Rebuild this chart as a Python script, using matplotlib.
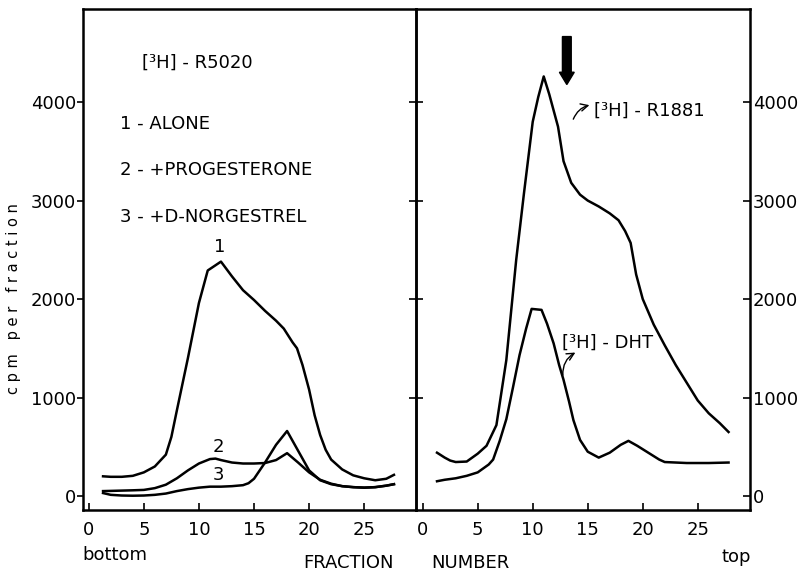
import numpy as np
import matplotlib
matplotlib.use("Agg")
import matplotlib.pyplot as plt

plt.rcParams['font.family'] = ['DejaVu Sans']
plt.rc('font', size=13)
plt.rc('xtick', labelsize=13)
plt.rc('ytick', labelsize=13)

# ---- left panel: [3H]-R5020 ----
alone_x = [1.3, 2, 3, 4, 5, 6, 7, 7.5, 8, 9, 10, 10.8, 12, 13, 14, 15, 16, 17, 17.7,
           18.5, 18.9, 19.4, 20, 20.5, 21, 21.5, 22, 23, 24, 25, 26, 27, 27.7]
alone_y = [200, 195, 195, 205, 240, 300, 420, 600, 870, 1400, 1960, 2290, 2380, 2230,
           2090, 1990, 1880, 1780, 1700, 1560, 1500, 1330, 1080, 820, 620, 470, 370,
           270, 210, 180, 160, 175, 215]

prog_x = [1.3, 2, 3, 4, 5, 6, 7, 8, 9, 10, 11, 11.5, 12, 13, 14, 15, 16, 17, 18, 19,
          20, 21, 22, 23, 24, 25, 26, 27, 27.7]
prog_y = [50, 52, 55, 58, 62, 80, 115, 180, 260, 330, 375, 380, 365, 340, 330, 330,
          335, 365, 435, 340, 240, 165, 125, 100, 90, 85, 90, 105, 120]

norg_x = [1.3, 2, 3, 4, 5, 6, 7, 8, 9, 10, 11, 12, 13, 14, 14.5, 15, 16, 17, 18, 19,
          20, 21, 22, 23, 24, 25, 26, 27, 27.7]
norg_y = [30, 12, 5, 3, 5, 12, 25, 50, 70, 85, 95, 95, 100, 110, 130, 175, 340, 520,
          660, 460, 260, 160, 120, 100, 90, 85, 90, 105, 120]

# ---- right panel: [3H]-R1881 and [3H]-DHT ----
r1881_x = [1.3, 2, 2.5, 3, 4, 5, 5.8, 6.7, 7.6, 8.5, 9.2, 10, 10.5, 11, 11.5, 12.3,
           12.8, 13.5, 14.3, 15, 16, 17, 17.8, 18.4, 18.9, 19.4, 20, 21, 22, 23, 24,
           25, 26, 27, 27.8]
r1881_y = [440, 390, 360, 345, 350, 430, 510, 720, 1380, 2400, 3070, 3800, 4050, 4260,
           4080, 3750, 3400, 3180, 3060, 3000, 2940, 2870, 2800, 2690, 2570, 2250, 2000,
           1740, 1530, 1330, 1150, 970, 840, 740, 650]

dht_x = [1.3, 2, 3, 4, 5, 6, 6.4, 7, 7.6, 8.2, 8.8, 9.4, 9.9, 10.8, 11.3, 11.9, 12.4,
         12.8, 13.3, 13.7, 14.3, 15, 16, 17, 18, 18.7, 19.5, 20.5, 21.5, 22, 24, 26, 27.8]
dht_y = [150, 165, 180, 205, 240, 320, 370, 560, 780, 1100, 1430, 1700, 1900, 1890,
         1750, 1550, 1330, 1180, 960, 770, 570, 450, 390, 440, 520, 560, 510, 440, 370,
         345, 335, 335, 340]

x_ticks = [0, 5, 10, 15, 20, 25]
y_ticks = [0, 1000, 2000, 3000, 4000]

W, H = 799, 572
fig = plt.figure(figsize=(W / 100, H / 100), dpi=100)
ax1 = fig.add_axes([83 / W, 1 - 510 / H, (416 - 83) / W, (510 - 9) / H])
ax2 = fig.add_axes([416 / W, 1 - 510 / H, (750 - 416) / W, (510 - 9) / H])
ax2.patch.set_visible(False)

lw = 1.8
for ax in (ax1, ax2):
    for s in ax.spines.values():
        s.set_linewidth(1.8)
    ax.set_ylim(-142, 4945)
    ax.set_xticks(x_ticks)
    ax.set_yticks(y_ticks)
    ax.tick_params(axis='x', direction='in', length=5, width=1.2, pad=8)

ax1.set_xlim(-0.52, 29.7)
ax2.set_xlim(-0.61, 29.75)

ax1.plot(alone_x, alone_y, color='k', lw=lw)
ax1.plot(prog_x, prog_y, color='k', lw=lw)
ax1.plot(norg_x, norg_y, color='k', lw=lw)
ax2.plot(r1881_x, r1881_y, color='k', lw=lw)
ax2.plot(dht_x, dht_y, color='k', lw=lw)

ax1.tick_params(axis='y', direction='out', length=4, width=1.2, pad=1)
sec = ax1.secondary_yaxis('right')
sec.set_yticks([1000, 2000, 3000, 4000])
sec.tick_params(axis='y', direction='inout', length=10, width=1.2, labelright=False)
sec.spines['right'].set_linewidth(1.8)

ax2.spines['left'].set_visible(False)
ax2.yaxis.tick_right()
ax2.tick_params(axis='y', direction='in', length=5, width=1.2, pad=2)

# left panel texts
ax1.text(4.8, 4400, "[³H] - R5020", ha='left', va='center')
ax1.text(2.8, 3780, "1 - ALONE", ha='left', va='center')
ax1.text(2.8, 3310, "2 - +PROGESTERONE", ha='left', va='center')
ax1.text(2.8, 2835, "3 - +D-NORGESTREL", ha='left', va='center')
ax1.text(11.9, 2530, "1", ha='center', va='center')
ax1.text(11.8, 500, "2", ha='center', va='center')
ax1.text(11.8, 215, "3", ha='center', va='center')

# right panel texts and arrows
ax2.text(15.6, 3915, "[³H] - R1881", ha='left', va='center')
ax2.annotate('', xy=(15.4, 3975), xytext=(13.6, 3800),
             arrowprops=dict(arrowstyle='->', connectionstyle='arc3,rad=-0.3', lw=1))
ax2.text(12.7, 1560, "[³H] - DHT", ha='left', va='center')
ax2.annotate('', xy=(14.1, 1470), xytext=(12.75, 1200),
             arrowprops=dict(arrowstyle='->', connectionstyle='arc3,rad=-0.35', lw=1))
ax2.arrow(13.1, 4665, 0, -(4665 - 4178), width=0.8, head_width=1.35, head_length=125,
          length_includes_head=True, color='k')

fig.text(14 / W, 1 - 299 / H, "c p m   p e r   f r a c t i o n", rotation=90,
         ha='center', va='center', fontsize=10.5)
fig.text(82 / W, 1 - 555 / H, "bottom", ha='left', va='center')
fig.text(303 / W, 1 - 563 / H, "FRACTION", ha='left', va='center')
fig.text(431 / W, 1 - 563 / H, "NUMBER", ha='left', va='center')
fig.text(722 / W, 1 - 557 / H, "top", ha='left', va='center')

fig.savefig("out.png", dpi=100)
